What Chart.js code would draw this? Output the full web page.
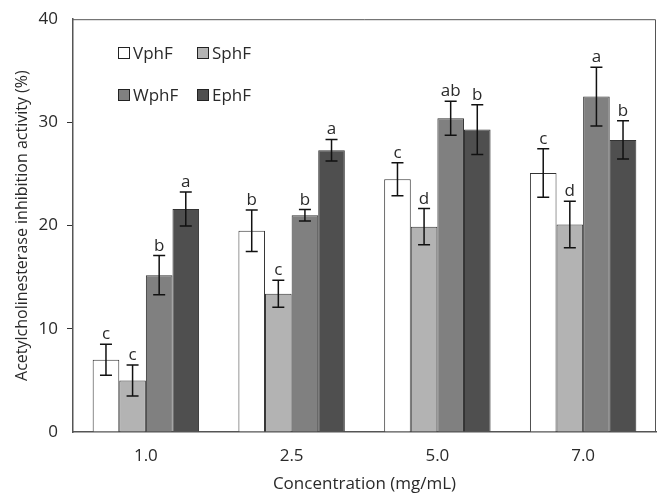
<!DOCTYPE html>
<html>
<head>
<meta charset="utf-8">
<script src="https://cdn.jsdelivr.net/npm/chart.js@4/dist/chart.umd.min.js"></script>
<style>
  html, body { margin: 0; padding: 0; background: #fff; }
  #wrap { width: 658px; height: 496px; }
</style>
</head>
<body>
<div id="wrap"><canvas id="chart-area" width="658" height="496"></canvas></div>
<script>
'use strict';

// data
var concentrations = ['1.0', '2.5', '5.0', '7.0'];
var seriesNames = ['VphF', 'SphF', 'WphF', 'EphF'];

var vphf = [7.0, 19.5, 24.5, 25.1];
var sphf = [5.0, 13.4, 19.9, 20.1];
var wphf = [15.2, 21.0, 30.4, 32.5];
var ephf = [21.6, 27.3, 29.3, 28.3];

var vphfErr = [1.5, 2.0, 1.6, 2.35];
var sphfErr = [1.5, 1.3, 1.75, 2.25];
var wphfErr = [1.9, 0.55, 1.65, 2.85];
var ephfErr = [1.65, 1.05, 2.4, 1.85];

var vphfLetters = ['c', 'b', 'c', 'c'];
var sphfLetters = ['c', 'c', 'd', 'd'];
var wphfLetters = ['b', 'b', 'ab', 'a'];
var ephfLetters = ['a', 'a', 'b', 'b'];

var yTicks = [0, 10, 20, 30, 40];

var fillColours = ['#ffffff', '#b3b3b3', '#808080', '#4f4f4f'];
var fontName = '"Open Sans", "Noto Sans", sans-serif';
var textColour = '#2a2a2a';

var values = [vphf, sphf, wphf, ephf];
var errors = [vphfErr, sphfErr, wphfErr, ephfErr];
var letters = [vphfLetters, sphfLetters, wphfLetters, ephfLetters];

// error bars + significance letters
var errorBarPlugin = {
  id: 'errorBars',
  afterDatasetsDraw: function(chart) {
    var ctx = chart.ctx;
    var y = chart.scales.y;
    ctx.save();
    chart.data.datasets.forEach(function(ds, i) {
      var meta = chart.getDatasetMeta(i);
      meta.data.forEach(function(bar, j) {
        var v = ds.data[j];
        var e = errors[i][j];
        var top = y.getPixelForValue(v + e);
        var bot = y.getPixelForValue(v - e);
        ctx.strokeStyle = '#111';
        ctx.lineWidth = 1.5;
        ctx.beginPath();
        ctx.moveTo(bar.x, top); ctx.lineTo(bar.x, bot);
        ctx.moveTo(bar.x - 6, top); ctx.lineTo(bar.x + 6, top);
        ctx.moveTo(bar.x - 6, bot); ctx.lineTo(bar.x + 6, bot);
        ctx.stroke();
        ctx.fillStyle = textColour;
        ctx.font = '17px ' + fontName;
        ctx.textAlign = 'center';
        ctx.textBaseline = 'alphabetic';
        ctx.fillText(letters[i][j], bar.x, top - 5);
      });
    });
    ctx.restore();
  }
};

// plot frame and the two-row legend in the top left
var framePlugin = {
  id: 'frame',
  afterDraw: function(chart) {
    var ctx = chart.ctx;
    var a = chart.chartArea;
    ctx.save();
    ctx.strokeStyle = '#555';
    ctx.lineWidth = 1;
    ctx.beginPath();
    ctx.moveTo(a.left, a.top + 0.5);
    ctx.lineTo(a.right - 0.5, a.top + 0.5);
    ctx.lineTo(a.right - 0.5, a.bottom);
    ctx.stroke();

    var spots = [[118, 53], [197, 53], [118, 95], [197, 95]];
    ctx.font = '17px ' + fontName;
    ctx.textBaseline = 'middle';
    ctx.textAlign = 'left';
    chart.data.datasets.forEach(function(ds, i) {
      var p = spots[i];
      ctx.fillStyle = ds.backgroundColor;
      ctx.fillRect(p[0], p[1] - 6, 12, 12);
      ctx.strokeStyle = '#222';
      ctx.strokeRect(p[0] + 0.5, p[1] - 5.5, 11, 11);
      ctx.fillStyle = textColour;
      ctx.fillText(ds.label, p[0] + 15, p[1] + 1);
    });
    ctx.restore();
  }
};

var config = {
  type: 'bar',
  data: {
    labels: concentrations,
    datasets: seriesNames.map(function(name, i) {
      return {
        label: name,
        data: values[i],
        backgroundColor: fillColours[i],
        borderColor: '#333',
        borderWidth: 1,
        categoryPercentage: 0.73,
        barPercentage: 1.0
      };
    })
  },
  options: {
    responsive: false,
    animation: false,
    layout: { padding: { top: 17, right: 2, left: 0, bottom: 0 } },
    plugins: {
      legend: { display: false },
      tooltip: { enabled: false }
    },
    scales: {
      x: {
        grid: { display: false, drawTicks: false },
        border: { display: true, color: '#555', width: 1.5 },
        ticks: { color: textColour, font: { family: fontName, size: 17 }, padding: 14 },
        title: {
          display: true,
          text: 'Concentration (mg/mL)',
          color: textColour,
          font: { family: fontName, size: 17 },
          padding: { top: 4, bottom: 2 }
        },
        afterFit: function(scale) { scale.height = 64; }
      },
      y: {
        min: 0,
        max: 40,
        afterBuildTicks: function(scale) {
          scale.ticks = yTicks.map(function(v) { return { value: v }; });
        },
        grid: {
          drawOnChartArea: false,
          drawTicks: true,
          tickLength: 6,
          tickColor: function(c) {
            var v = yTicks[c.index];
            return (v === 0 || v === 40) ? 'rgba(0,0,0,0)' : '#333';
          }
        },
        border: { display: true, color: '#555', width: 1.5 },
        ticks: { color: textColour, font: { family: fontName, size: 17 }, padding: 9 },
        title: {
          display: true,
          text: 'Acetylcholinesterase inhibition activity (%)',
          color: textColour,
          font: { family: fontName, size: 16 },
          padding: { top: 13, bottom: 0 }
        },
        afterFit: function(scale) { scale.width = 73; }
      }
    }
  },
  plugins: [errorBarPlugin, framePlugin]
};

var ctx = document.getElementById('chart-area').getContext('2d');
window.myBar = new Chart(ctx, config);
</script>
</body>
</html>
